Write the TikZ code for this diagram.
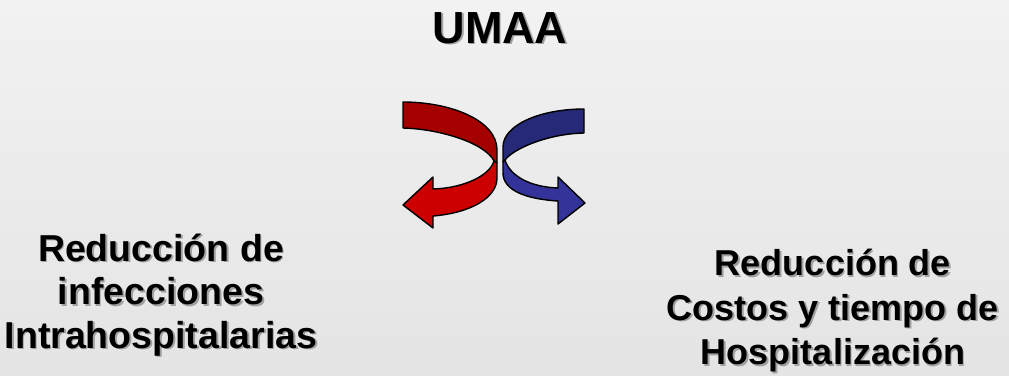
\documentclass[tikz,border=0pt]{standalone}
\usepackage{fontspec}
\setmainfont{Liberation Sans}
\definecolor{bgtop}{RGB}{242,242,242}
\definecolor{bgbot}{RGB}{228,228,228}
\definecolor{redback}{RGB}{165,0,0}
\definecolor{redfront}{RGB}{204,0,0}
\definecolor{blueback}{RGB}{38,40,120}
\definecolor{bluefront}{RGB}{51,51,153}
\definecolor{shadowgray}{RGB}{160,160,160}
% text with a soft grey drop shadow behind it
\newcommand\shadowed[1]{\makebox[0pt][l]{\kern1.8pt\raisebox{-1.8pt}{\color{shadowgray}#1}}#1}
\begin{document}
\begin{tikzpicture}[x=1pt,y=-1pt,
  ribbon/.style={draw=black,line width=1.4pt,line join=round},
  title/.style={font=\fontsize{45}{54}\selectfont\bfseries,inner sep=0pt,anchor=base},
  lefttext/.style={font=\fontsize{37.5}{45}\selectfont\bfseries,inner sep=0pt,anchor=base},
  righttext/.style={font=\fontsize{36}{43}\selectfont\bfseries,inner sep=0pt,anchor=base}]
\useasboundingbox (0pt,0pt) rectangle (1009pt,-375pt);
\shade[top color=bgtop,bottom color=bgbot] (0pt,0pt) rectangle (1009pt,-375pt);

% title
\node[title] (umaa) at (500,43) {\shadowed{UMAA}};

% red ribbon: back face on top, front face with the arrow head below
\path[ribbon,fill=redback] (403,102) .. controls (450,102) and (497,120) .. (497,150)
  -- (497,163) -- (494,161) .. controls (485,143) and (440,129) .. (403,128) -- cycle;
\path[ribbon,fill=redfront] (494,161) .. controls (490,175) and (465,188) .. (433,189)
  -- (433,177) -- (403,205) -- (433,228) -- (433,216)
  .. controls (470,213) and (497,198) .. (497,178) -- (497,163) -- cycle;

% blue ribbon, turning the other way
\path[ribbon,fill=blueback] (584,109) .. controls (540,109) and (503,125) .. (503,147)
  -- (503,162) -- (505,160) .. controls (512,150) and (545,134) .. (584,133) -- cycle;
\path[ribbon,fill=bluefront] (505,160) .. controls (510,176) and (530,187) .. (558,188)
  -- (558,177) -- (585,203) -- (558,224) -- (558,201)
  .. controls (525,199) and (503,190) .. (503,173) -- (503,162) -- cycle;

% left caption
\node[lefttext] (l1) at (161,261) {\shadowed{Reducción de}};
\node[lefttext] (l2) at (161,304.5) {\shadowed{infecciones}};
\node[lefttext] (l3) at (161,348) {\shadowed{Intrahospitalarias}};

% right caption
\node[righttext] (r1) at (833,275.5) {\shadowed{Reducción de}};
\node[righttext] (r2) at (833,320) {\shadowed{Costos y tiempo de}};
\node[righttext] (r3) at (833,364.5) {\shadowed{Hospitalización}};
\end{tikzpicture}
\end{document}
